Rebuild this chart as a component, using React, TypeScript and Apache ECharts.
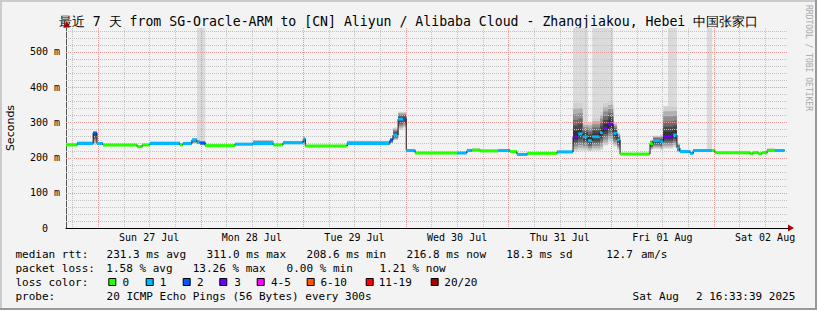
import React, { useEffect, useRef } from 'react';
import * as echarts from 'echarts';

// x values: hours since Sun 27 Jul 00:00 ; y values: milliseconds
const X_MIN = -7.45;
const X_MAX = 161.36;
const Y_MAX = 568;

const dayNoon = [12, 36, 60, 84, 108, 132, 156];
const dayNames = ['Sun 27 Jul', 'Mon 28 Jul', 'Tue 29 Jul', 'Wed 30 Jul', 'Thu 31 Jul', 'Fri 01 Aug', 'Sat 02 Aug'];
const yTicks = [0, 100, 200, 300, 400, 500];

// segment boundaries (hours)
const breaks = [-7.45, -4.8, -1.1, -0.2, 1.2, 9.2, 10.4, 12.2, 19.2, 19.9, 22.0, 23.2, 23.9, 25.1, 32.1, 36.3, 41.0, 43.3, 48.0, 48.5,
  58.3, 68.3, 69.0, 70.2, 71.4, 72.1, 74.2, 84.0, 86.3, 87.5, 89.4, 93.6, 96.4, 98.0, 100.4, 107.4, 111.1, 112.3, 113.4, 114.6,
  115.6, 117.4, 118.1, 119.3, 120.5, 121.4, 122.1, 129.1, 129.8, 131.5, 132.2, 133.3, 134.5, 135.4, 136.1, 138.5, 139.2, 142.4,
  143.6, 144.3, 152.5, 153.2, 154.4, 155.3, 156.5, 158.3, 160.55];

// median rtt per segment (ms)
const median = [236, 240, 270, 240, 236, 231, 236, 240, 236, 240,
  250, 244, 241, 234, 238, 240, 236, 242, 252, 233,
  240, 250, 264, 309, 311, 220, 213, 213, 220, 221,
  219, 220, 217, 209, 212, 216, 259, 267, 259, 248,
  259, 271, 283, 295, 269, 250, 210, 240, 248, 245,
  259, 259, 264, 227, 217, 212, 220, 220, 220, 214,
  211, 214, 211, 214, 220, 220];

// loss colour class per segment
const lossIdx = [0, 1, 2, 1, 0, 0, 0, 1, 0, 1,
  1, 1, 2, 0, 1, 1, 0, 1, 1, 0,
  1, 2, 1, 1, 2, 1, 0, 1, 1, 0,
  0, 1, 0, 1, 0, 1, 3, 1, 1, 1,
  1, 1, 3, 3, 1, 1, 0, 0, 1, 1,
  3, 3, 1, 1, 1, 1, 1, 1, 0, 0,
  0, 0, 0, 0, 0, 1];

// smoke: lowest / highest ping of the dense band (ms)
const smokeLo = [234, 238, 236, 238, 235, 230, 235, 238, 235, 238,
  240, 238, 236, 233, 237, 238, 235, 238, 240, 232,
  238, 240, 250, 280, 285, 218, 212, 211, 218, 219,
  218, 218, 216, 206, 211, 214, 218, 220, 220, 218,
  220, 222, 235, 245, 232, 222, 209, 222, 225, 222,
  226, 226, 230, 215, 214, 210, 218, 218, 218, 213,
  210, 213, 210, 213, 218, 218];
const smokeHi = [240, 246, 272, 244, 238, 233, 238, 246, 240, 245,
  255, 250, 248, 236, 242, 250, 238, 247, 258, 235,
  248, 255, 285, 330, 330, 222, 215, 216, 225, 226,
  222, 223, 219, 212, 214, 220, 355, 355, 300, 300,
  312, 330, 355, 360, 300, 270, 212, 250, 262, 265,
  346, 346, 346, 240, 222, 215, 224, 224, 222, 216,
  213, 216, 213, 216, 226, 224];
// sparse tail of slow pings (0 = none)
const tallTop = [0, 0, 0, 0, 0, 0, 0, 0, 0, 0,
  0, 568, 568, 0, 0, 0, 0, 0, 0, 0,
  0, 0, 0, 0, 0, 0, 0, 0, 0, 0,
  0, 0, 0, 0, 0, 0, 568, 568, 568, 0,
  568, 568, 568, 568, 0, 0, 0, 0, 0, 0,
  0, 568, 568, 0, 0, 0, 0, 568, 0, 0,
  0, 0, 0, 0, 0, 0];

const lossLabels = ['0', '1', '2', '3', '4-5', '6-10', '11-19', '20/20'];
const lossColors = ['#26ff00', '#00b8ff', '#0059ff', '#6a00ff', '#ff00ff', '#ff5a00', '#ff0000', '#a10000'];

const title = '最近 7 天 from SG-Oracle-ARM to [CN] Aliyun / Alibaba Cloud - Zhangjiakou, Hebei 中国张家口';
const medianStats = ['231.3 ms avg', '311.0 ms max', '208.6 ms min', '216.8 ms now', '18.3 ms sd', '12.7', 'am/s'];
const lossStats = ['1.58 % avg', '13.26 % max', '0.00 % min', '1.21 % now'];
const probeText = '20 ICMP Echo Pings (56 Bytes) every 300s';
const stampParts = ['Sat Aug', '2 16:33:39 2025'];

// layout (pixels)
const medianStatsX = [106.6, 206.6, 306.6, 406.6, 506.3, 606.3, 641];
const lossStatsX = [106.3, 192.7, 286.6, 379.4];
const lossBoxX = [108.3, 145.7, 182.7, 219.3, 256.7, 306.7, 365.7, 430.7];
const lossLabelX = [122.6, 159.7, 197, 234.3, 271, 320.4, 378.7, 444.3];

const MONO = '"DejaVu Sans Mono", monospace';
const BG = '#f3f3f3';

function txt(text: string, x: number, y: number, size: number, extra: any = {}) {
  return {
    type: 'text', x, y, silent: true, ...extra,
    style: {
      text, fill: extra.fill || '#000', fontFamily: extra.fontFamily || MONO, fontSize: size,
      textAlign: extra.align || 'left', align: extra.align || 'left',
      textVerticalAlign: 'middle', verticalAlign: 'middle',
    },
  };
}

function buildOption() {
  const segs = median.map((m, i) => [breaks[i], breaks[i + 1], m, lossIdx[i], smokeLo[i], smokeHi[i], tallTop[i], i > 0 ? median[i - 1] : m]);

  const gridData: number[][] = [];
  for (let v = 20; v <= 560; v += 20) gridData.push([0, v, v % 100 === 0 ? 1 : 0]);
  for (let t = -6; t <= 160; t += 6) gridData.push([1, t, t % 24 === 0 ? 1 : 0]);

  const shades = ['#d0d0d0', '#b0b0b0', '#8e8e8e', '#6c6c6c', '#4a4a4a', '#333333'];

  const graphics: any[] = [
    { type: 'rect', shape: { x: 0, y: 0, width: 817, height: 2 }, style: { fill: '#cbcbcb' }, silent: true },
    { type: 'rect', shape: { x: 0, y: 0, width: 2, height: 310 }, style: { fill: '#cbcbcb' }, silent: true },
    { type: 'rect', shape: { x: 0, y: 308, width: 817, height: 2 }, style: { fill: '#999999' }, silent: true },
    { type: 'rect', shape: { x: 815, y: 0, width: 2, height: 310 }, style: { fill: '#999999' }, silent: true },
    txt(title, 408.5, 21, 13.2, { align: 'center' }),
    txt('Seconds', 10, 128, 11, { align: 'center', rotation: Math.PI / 2, fontFamily: '"DejaVu Sans", sans-serif' }),
    txt('RRDTOOL / TOBI OETIKER', 808.5, 5, 8, { rotation: -Math.PI / 2, fill: '#a8a8a8' }),
    { type: 'polygon', shape: { points: [[788, 224.5], [794, 228], [788, 231.5]] }, style: { fill: '#b00000' }, silent: true },
    { type: 'polygon', shape: { points: [[63, 27.5], [66.5, 21.5], [70, 27.5]] }, style: { fill: '#b00000' }, silent: true },
    txt('median rtt:', 15.5, 254, 11),
    txt('packet loss:', 15.5, 268.3, 11),
    txt('loss color:', 15.5, 282.3, 11),
    txt('probe:', 15.5, 296.3, 11),
    txt(probeText, 106.6, 296.3, 11),
    txt(stampParts[0], 632.6, 296.3, 11),
    txt(stampParts[1], 696, 296.3, 11),
  ];
  medianStats.forEach((s, i) => graphics.push(txt(s, medianStatsX[i], 254, 11)));
  lossStats.forEach((s, i) => graphics.push(txt(s, lossStatsX[i], 268.3, 11)));
  lossLabels.forEach((s, i) => {
    graphics.push({ type: 'rect', shape: { x: lossBoxX[i] + 0.5, y: 278.5, width: 7, height: 7 }, style: { fill: lossColors[i], stroke: '#000', lineWidth: 1 }, silent: true });
    graphics.push(txt(s, lossLabelX[i], 282.3, 11));
  });

  return {
    animation: false,
    backgroundColor: BG,
    grid: { left: 66, right: 29, top: 28, bottom: 82, containLabel: false, outerBoundsMode: 'none' },
    xAxis: {
      type: 'value', min: X_MIN, max: X_MAX,
      axisLine: { show: true, onZero: false, lineStyle: { color: '#000', width: 1 } },
      axisTick: { show: false },
      splitLine: { show: false },
      axisLabel: {
        customValues: dayNoon,
        formatter: (v: number) => { const k = dayNoon.indexOf(Math.round(v)); return k >= 0 ? dayNames[k] : ''; },
        fontFamily: MONO, fontSize: 10, color: '#000', margin: 4,
      },
    },
    yAxis: {
      type: 'value', min: 0, max: Y_MAX,
      axisLine: { show: true, onZero: false, lineStyle: { color: '#555', width: 1 } },
      axisTick: { show: false },
      splitLine: { show: false },
      axisLabel: {
        customValues: yTicks,
        formatter: (v: number) => (v === 0 ? '{z|0}' : `${v} m`),
        rich: { z: { padding: [0, 12, 0, 0], fontFamily: MONO, fontSize: 10, color: '#000' } },
        fontFamily: MONO, fontSize: 10, color: '#000', margin: 6,
      },
    },
    graphic: { elements: graphics },
    series: [
      {
        type: 'custom', name: 'smoke', z: 2, clip: true, silent: true,
        data: segs,
        encode: { x: [0, 1], y: [2] },
        renderItem: (params: any, api: any) => {
          const t0 = api.value(0), t1 = api.value(1), med = api.value(2);
          const lo = api.value(4), hi = api.value(5), tall = api.value(6);
          const p0 = api.coord([t0, med]);
          const p1 = api.coord([t1, med]);
          const x0 = p0[0], w = p1[0] - p0[0];
          const ch: any[] = [];
          if (tall > 0) {
            const yT = api.coord([t0, tall])[1];
            const yH = api.coord([t0, hi])[1];
            ch.push({ type: 'rect', shape: { x: x0, y: yT, width: w, height: yH - yT }, style: { fill: '#dadada' } });
          }
          for (let k = 0; k < shades.length; k++) {
            const a = lo + ((med - lo) * k) / shades.length;
            const b = hi - ((hi - med) * k) / shades.length;
            const yA = api.coord([t0, a])[1];
            const yB = api.coord([t0, b])[1];
            if (yA - yB < 0.3) continue;
            ch.push({ type: 'rect', shape: { x: x0, y: yB, width: w, height: yA - yB }, style: { fill: shades[k] } });
          }
          return { type: 'group', children: ch };
        },
      },
      {
        type: 'custom', name: 'grid', z: 3, clip: false, silent: true,
        data: gridData,
        renderItem: (params: any, api: any) => {
          const dir = api.value(0), v = api.value(1), major = api.value(2);
          const cs = params.coordSys;
          const stroke = major ? '#e69a9a' : '#c2c2c2';
          if (dir === 0) {
            const y = Math.round(api.coord([X_MIN, v])[1]) + 0.5;
            return { type: 'line', shape: { x1: cs.x, y1: y, x2: cs.x + cs.width, y2: y }, style: { stroke, lineWidth: 1, lineDash: [1, 1] } };
          }
          const x = Math.round(api.coord([v, 0])[0]) + 0.5;
          return { type: 'line', shape: { x1: x, y1: cs.y, x2: x, y2: cs.y + cs.height }, style: { stroke, lineWidth: 1, lineDash: [1, 1] } };
        },
      },
      {
        type: 'custom', name: 'median', z: 4, clip: true, silent: true,
        data: segs,
        encode: { x: [0, 1], y: [2] },
        renderItem: (params: any, api: any) => {
          const i = params.dataIndex;
          const t0 = api.value(0), t1 = api.value(1), med = api.value(2), loss = api.value(3), prev = api.value(7);
          const p0 = api.coord([t0, med]);
          const p1 = api.coord([t1, med]);
          const ch: any[] = [];
          if (i > 0 && prev !== med) {
            const yp = api.coord([t0, prev])[1];
            ch.push({ type: 'line', shape: { x1: p0[0], y1: yp, x2: p0[0], y2: p0[1] }, style: { stroke: '#1a1a1a', lineWidth: 1 } });
          }
          ch.push({ type: 'rect', shape: { x: p0[0], y: p0[1] - 1.5, width: p1[0] - p0[0], height: 3 }, style: { fill: lossColors[loss] } });
          return { type: 'group', children: ch };
        },
      },
    ],
  };
}

export default function App() {
  const ref = useRef<HTMLDivElement>(null);
  useEffect(() => {
    document.body.style.margin = '0';
    const chart = echarts.init(ref.current as HTMLDivElement, null, { renderer: 'svg', width: 817, height: 310 });
    chart.setOption(buildOption() as any);
    return () => chart.dispose();
  }, []);
  return <div ref={ref} style={{ width: 817, height: 310, position: 'absolute', left: 0, top: 0, background: BG }} />;
}
